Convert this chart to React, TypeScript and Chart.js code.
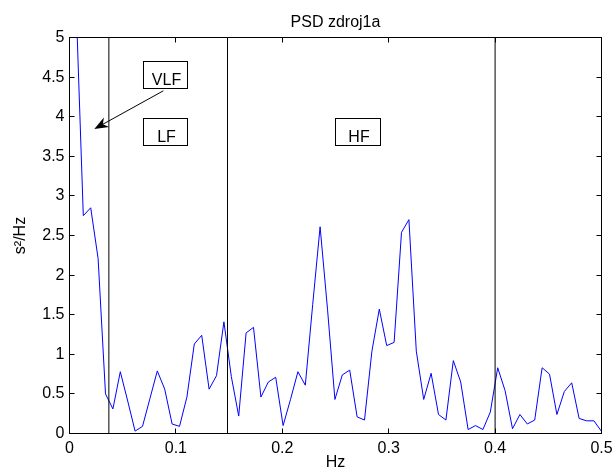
import React, { useEffect, useRef } from "react";
import { Chart, registerables } from "chart.js";

Chart.register(...registerables);

// Frequency grid of the PSD estimate (Hz)
const FREQ_START = 0.00602;
const FREQ_STEP = 0.006955;

// PSD values (s^2/Hz)
const psdValues = [
  5.5, 2.75, 2.85, 2.21, 0.5, 0.31, 0.78, 0.41, 0.03, 0.09,
  0.44, 0.79, 0.56, 0.12, 0.09, 0.46, 1.13, 1.24, 0.56, 0.73,
  1.41, 0.72, 0.22, 1.27, 1.34, 0.46, 0.65, 0.71, 0.1, 0.43,
  0.78, 0.61, 1.63, 2.61, 1.57, 0.43, 0.74, 0.8, 0.21, 0.17,
  1.04, 1.57, 1.11, 1.15, 2.54, 2.7, 1.04, 0.43, 0.76, 0.24,
  0.17, 0.92, 0.65, 0.05, 0.1, 0.05, 0.27, 0.83, 0.54, 0.06,
  0.24, 0.12, 0.17, 0.83, 0.75, 0.24, 0.53, 0.64, 0.19, 0.16,
  0.16, 0.03,
];
const frequencies = psdValues.map((_, i) => FREQ_START + FREQ_STEP * i);

const xTicks = [0, 0.1, 0.2, 0.3, 0.4, 0.5];
const yTicks = [0, 0.5, 1, 1.5, 2, 2.5, 3, 3.5, 4, 4.5, 5];

// band boundaries (Hz)
const bandLines = [0.037, 0.1485, 0.4];

// band label boxes in data units
const bandLabels = [
  { text: "VLF", x0: 0.0688, x1: 0.1107, y0: 4.697, y1: 4.361 },
  { text: "LF", x0: 0.0688, x1: 0.1107, y0: 3.982, y1: 3.645 },
  { text: "HF", x0: 0.2495, x1: 0.2918, y0: 3.982, y1: 3.645 },
];

const arrowSpec = { fromX: 0.0882, fromY: 4.327, toX: 0.0233, toY: 3.845 };

const FONT = "'Liberation Sans', Arial, Helvetica, sans-serif";
const TITLE = "PSD zdroj1a";

const fmt = (v: number) => String(Math.round(v * 10) / 10);

const framePlugin = {
  id: "matlabFrame",
  afterDraw(chart: any) {
    const { ctx, chartArea } = chart;
    const xs = chart.scales.x;
    const ys = chart.scales.y;
    const { left, right, top, bottom } = chartArea;
    ctx.save();
    ctx.strokeStyle = "#000";
    ctx.lineWidth = 1;
    // frame
    ctx.strokeRect(left, top, right - left, bottom - top);
    // inward ticks
    const tl = 5;
    ctx.beginPath();
    xTicks.forEach((v) => {
      const px = Math.floor(xs.getPixelForValue(v)) + 0.5;
      ctx.moveTo(px, bottom);
      ctx.lineTo(px, bottom - tl);
      ctx.moveTo(px, top);
      ctx.lineTo(px, top + tl);
    });
    yTicks.forEach((v) => {
      const py = Math.floor(ys.getPixelForValue(v)) + 0.5;
      ctx.moveTo(left, py);
      ctx.lineTo(left + tl, py);
      ctx.moveTo(right, py);
      ctx.lineTo(right - tl, py);
    });
    ctx.stroke();

    // title
    ctx.fillStyle = "#000";
    ctx.font = `16px ${FONT}`;
    ctx.textAlign = "center";
    ctx.textBaseline = "alphabetic";
    ctx.fillText(TITLE, (left + right) / 2, 27);

    // label boxes
    bandLabels.forEach((b) => {
      const x0 = Math.round(xs.getPixelForValue(b.x0)) + 0.5;
      const x1 = Math.round(xs.getPixelForValue(b.x1)) + 0.5;
      const y0 = Math.round(ys.getPixelForValue(b.y0)) + 0.5;
      const y1 = Math.round(ys.getPixelForValue(b.y1)) + 0.5;
      ctx.fillStyle = "#fff";
      ctx.fillRect(x0, y0, x1 - x0, y1 - y0);
      ctx.strokeStyle = "#000";
      ctx.strokeRect(x0, y0, x1 - x0, y1 - y0);
      ctx.fillStyle = "#000";
      ctx.textAlign = "center";
      ctx.fillText(b.text, (x0 + x1) / 2 + 1, y1 - 3.3);
    });

    // arrow
    const tx = xs.getPixelForValue(arrowSpec.toX);
    const ty = ys.getPixelForValue(arrowSpec.toY);
    const fx = xs.getPixelForValue(arrowSpec.fromX);
    const fy = ys.getPixelForValue(arrowSpec.fromY);
    const dx = fx - tx;
    const dy = fy - ty;
    const len = Math.hypot(dx, dy);
    const ux = dx / len;
    const uy = dy / len;
    const px = -uy;
    const py = ux;
    const L = 14;
    const W = 5.5;
    const nx = tx + ux * L * 0.7;
    const ny = ty + uy * L * 0.7;
    ctx.beginPath();
    ctx.moveTo(fx, fy);
    ctx.lineTo(nx, ny);
    ctx.stroke();
    ctx.beginPath();
    ctx.moveTo(tx, ty);
    ctx.lineTo(tx + ux * L + px * W, ty + uy * L + py * W);
    ctx.lineTo(nx, ny);
    ctx.lineTo(tx + ux * L - px * W, ty + uy * L - py * W);
    ctx.closePath();
    ctx.fill();
    ctx.restore();
  },
};

export default function App() {
  const ref = useRef<HTMLCanvasElement | null>(null);

  useEffect(() => {
    if (!ref.current) return;
    const tickFont = { family: FONT, size: 16, weight: "normal" as const };
    const chart = new Chart(ref.current, {
      type: "line",
      data: {
        datasets: [
          ...bandLines.map((x) => ({
            data: [
              { x, y: 0 },
              { x, y: 5 },
            ],
            borderColor: "#000",
            borderWidth: 1,
            pointRadius: 0,
            clip: 0,
          })),
          {
            data: frequencies.map((f, i) => ({ x: f, y: psdValues[i] })),
            borderColor: "#0000ff",
            borderWidth: 1,
            pointRadius: 0,
            tension: 0,
            clip: 0,
          },
        ],
      },
      options: {
        animation: false,
        responsive: false,
        maintainAspectRatio: false,
        events: [],
        layout: { padding: { top: 37.5, right: 10.5, bottom: 0, left: 0 } },
        plugins: {
          legend: { display: false },
          tooltip: { enabled: false },
          title: { display: false },
        },
        scales: {
          x: {
            type: "linear",
            min: 0,
            max: 0.5,
            afterBuildTicks: (s: any) => {
              s.ticks = xTicks.map((v) => ({ value: v }));
            },
            ticks: {
              color: "#000",
              font: tickFont,
              padding: 5,
              maxRotation: 0,
              autoSkip: false,
              callback: (v: any) => fmt(Number(v)),
            },
            grid: { display: false, drawTicks: false },
            border: { display: false },
            title: {
              display: true,
              text: "Hz",
              color: "#000",
              font: tickFont,
              padding: { top: 0, bottom: 3.2 },
            },
            afterFit: (s: any) => {
              s.height = 41.5;
              s.paddingLeft = 0;
              s.paddingRight = 0;
            },
          },
          y: {
            type: "linear",
            min: 0,
            max: 5,
            afterBuildTicks: (s: any) => {
              s.ticks = yTicks.map((v) => ({ value: v }));
            },
            ticks: {
              color: "#000",
              font: tickFont,
              padding: 5,
              autoSkip: false,
              callback: (v: any) => fmt(Number(v)),
            },
            grid: { display: false, drawTicks: false },
            border: { display: false },
            title: {
              display: true,
              text: "s²/Hz",
              color: "#000",
              font: tickFont,
              padding: { top: 11, bottom: 0 },
            },
            afterFit: (s: any) => {
              s.width = 69.5;
              s.paddingTop = 0;
              s.paddingBottom = 0;
            },
          },
        },
      },
      plugins: [framePlugin],
    });
    return () => chart.destroy();
  }, []);

  return (
    <div
      style={{
        position: "absolute",
        left: 0,
        top: 0,
        width: 612,
        height: 475,
        background: "#fff",
      }}
    >
      <canvas ref={ref} width={612} height={475} style={{ width: 612, height: 475 }} />
    </div>
  );
}
